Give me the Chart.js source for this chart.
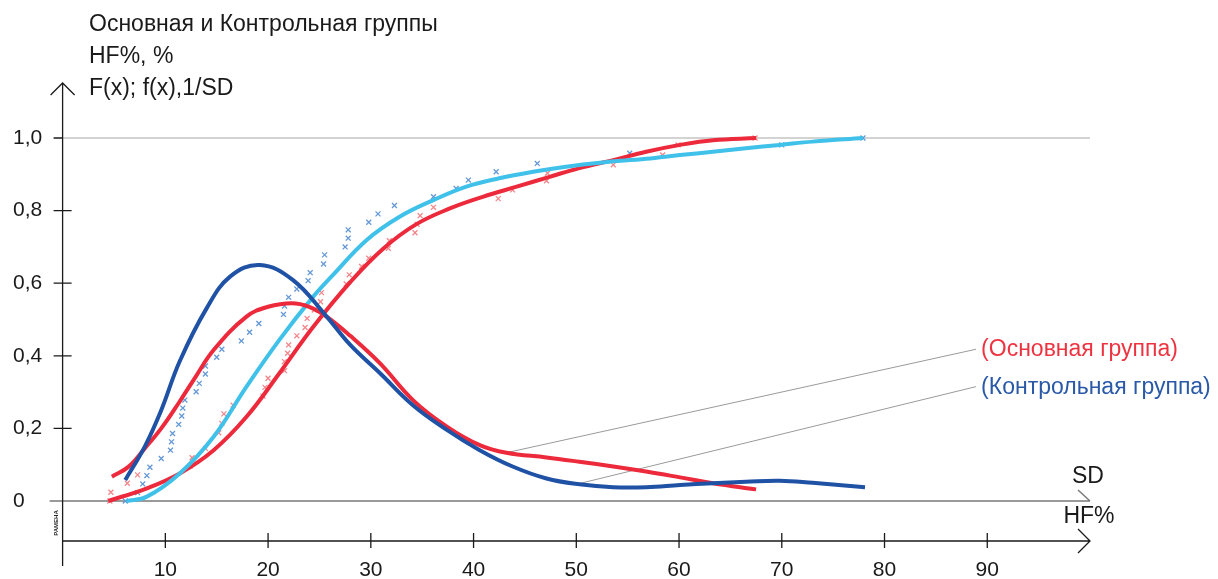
<!DOCTYPE html>
<html>
<head>
<meta charset="utf-8">
<script src="https://cdn.jsdelivr.net/npm/chart.js@4"></script>
<style>
  html, body { margin: 0; padding: 0; background: #fff; }
</style>
</head>
<body>
<canvas id="chart" width="1218" height="579"></canvas>
<script>
// tick labels
const xTicks = [10, 20, 30, 40, 50, 60, 70, 80, 90];
const yTicks = [0, 0.2, 0.4, 0.6, 0.8, 1.0];

// f(x) - Основная группа
const mainPdfX = [4.8, 6.4, 8.0, 9.6, 11.3, 12.9, 14.7, 17.9, 20.0, 22.3, 24.0, 25.7, 28.0, 30.9, 34.1, 37.4, 40.6, 43.2, 47.1, 50.3, 53.6, 56.8, 60.1, 63.3, 67.5];
const mainPdfY = [0.067, 0.094, 0.145, 0.2, 0.27, 0.34, 0.416, 0.508, 0.535, 0.545, 0.535, 0.508, 0.455, 0.379, 0.278, 0.205, 0.154, 0.133, 0.120, 0.108, 0.095, 0.081, 0.065, 0.049, 0.032];

// f(x) - Контрольная группа
const ctrlPdfX = [6.1, 8.0, 9.6, 11.4, 14.0, 16.3, 19.2, 22.4, 25.7, 28.0, 30.9, 34.1, 37.4, 40.6, 43.8, 47.1, 50.3, 53.6, 56.8, 60.1, 63.3, 66.5, 69.8, 73.0, 78.1];
const ctrlPdfY = [0.058, 0.15, 0.25, 0.385, 0.53, 0.618, 0.65, 0.609, 0.508, 0.43, 0.352, 0.264, 0.196, 0.14, 0.095, 0.062, 0.046, 0.038, 0.038, 0.044, 0.049, 0.053, 0.056, 0.050, 0.038];

// F(x) - Основная группа
const mainCdfX = [4.45, 8.2, 11.4, 14.7, 17.9, 21.1, 24.4, 28.0, 31.2, 34.4, 37.7, 40.9, 44.2, 47.4, 50.3, 53.6, 56.8, 60.1, 63.3, 67.5];
const mainCdfY = [0, 0.035, 0.076, 0.14, 0.232, 0.352, 0.48, 0.603, 0.695, 0.762, 0.806, 0.838, 0.866, 0.893, 0.917, 0.939, 0.962, 0.981, 0.994, 1.0];

// F(x) - Контрольная группа
const ctrlCdfX = [6.2, 8.2, 11.4, 14.7, 17.9, 21.1, 24.4, 26.3, 29.6, 32.8, 36.1, 39.3, 42.5, 45.8, 49.0, 52.3, 56.8, 60.1, 63.3, 66.5, 69.8, 73.0, 77.9];
const ctrlCdfY = [0, 0.012, 0.076, 0.177, 0.315, 0.444, 0.563, 0.622, 0.719, 0.783, 0.829, 0.866, 0.889, 0.907, 0.921, 0.932, 0.943, 0.953, 0.962, 0.972, 0.981, 0.99, 1.0];

// эмпирические точки
const mainEmpX = [4.6, 4.7, 6.3, 7.3, 12.4, 12.6, 13.9, 15.2, 15.5, 15.7, 16.6, 19.5, 19.7, 20.0, 21.6, 21.6, 21.9, 22.0, 22.8, 23.6, 23.8, 24.5, 25.1, 25.2, 27.6, 27.9, 29.1, 29.8, 31.7, 31.8, 34.3, 34.5, 34.8, 36.1, 42.4, 43.8, 47.1, 47.2, 53.6, 58.4, 59.9, 67.4];
const mainEmpY = [0.0, 0.024, 0.049, 0.072, 0.096, 0.119, 0.145, 0.188, 0.214, 0.24, 0.264, 0.289, 0.313, 0.338, 0.359, 0.384, 0.407, 0.43, 0.455, 0.478, 0.503, 0.526, 0.549, 0.574, 0.598, 0.623, 0.646, 0.669, 0.696, 0.717, 0.739, 0.762, 0.786, 0.809, 0.833, 0.857, 0.882, 0.903, 0.926, 0.953, 0.981, 1.0];
const ctrlEmpX = [6.1, 7.3, 7.8, 8.2, 8.5, 9.6, 10.5, 10.6, 10.7, 11.3, 11.6, 11.7, 11.9, 13.0, 13.3, 13.9, 13.9, 15.0, 15.5, 17.4, 18.2, 19.1, 21.5, 21.6, 22.0, 22.8, 23.9, 24.1, 25.4, 25.5, 27.5, 27.8, 27.8, 29.8, 30.7, 32.3, 36.1, 38.3, 39.5, 42.2, 46.2, 55.2, 70.0, 77.9];
const ctrlEmpY = [0.0, 0.023, 0.047, 0.07, 0.093, 0.117, 0.14, 0.163, 0.186, 0.211, 0.234, 0.256, 0.278, 0.301, 0.324, 0.35, 0.372, 0.396, 0.418, 0.441, 0.465, 0.489, 0.514, 0.537, 0.561, 0.584, 0.607, 0.629, 0.653, 0.678, 0.70, 0.724, 0.747, 0.768, 0.791, 0.814, 0.838, 0.861, 0.884, 0.907, 0.930, 0.958, 0.981, 1.0];

// выноски к подписям
const mainLinkX = [43.2, 88.9];
const mainLinkY = [0.133, 0.418];
const ctrlLinkX = [50.0, 88.9];
const ctrlLinkY = [0.046, 0.315];

const pts = (xs, ys) => xs.map((x, i) => ({ x: x, y: ys[i] }));

const RED = '#ec2a3c';
const CYAN = '#3fc1ea';
const BLUE = '#1f52a5';
const FONT = '"Liberation Sans", Arial, sans-serif';

Chart.defaults.font.family = FONT;

function curve(data, color, order) {
  return {
    type: 'line', data: data, borderColor: color, borderWidth: 4,
    pointRadius: 0, fill: false, tension: 0.4, order: order
  };
}
function marks(data, color) {
  return {
    type: 'scatter', data: data, pointStyle: 'crossRot', pointRadius: 3.5,
    borderColor: color, borderWidth: 1.3, backgroundColor: color, order: 10
  };
}
function link(data) {
  return {
    type: 'line', data: data, borderColor: '#9a9a9a', borderWidth: 1,
    pointRadius: 0, fill: false, tension: 0, order: 8
  };
}

const axesPlugin = {
  id: 'axesPlugin',
  beforeDatasetsDraw(chart) {
    const c = chart.ctx, xs = chart.scales.x, ys = chart.scales.y;
    const x0 = xs.getPixelForValue(0), xEnd = xs.getPixelForValue(100);
    c.save();
    // линия сетки 1,0
    c.strokeStyle = '#c4c4c4'; c.lineWidth = 1.5;
    c.beginPath(); c.moveTo(x0, ys.getPixelForValue(1)); c.lineTo(xEnd, ys.getPixelForValue(1)); c.stroke();
    // ось SD
    const y0 = ys.getPixelForValue(0);
    c.strokeStyle = '#7a7a7a'; c.lineWidth = 1.5;
    c.beginPath(); c.moveTo(x0 - 13, y0); c.lineTo(xEnd, y0);
    c.moveTo(xEnd - 12, y0 - 11); c.lineTo(xEnd, y0); c.stroke();
    c.restore();
  },
  afterDraw(chart) {
    const c = chart.ctx, xs = chart.scales.x, ys = chart.scales.y, a = chart.chartArea;
    const x0 = xs.getPixelForValue(0), xEnd = xs.getPixelForValue(100);
    c.save();
    c.strokeStyle = '#1a1a1a'; c.lineWidth = 1.3;
    c.beginPath();
    // вертикальная ось со стрелкой
    c.moveTo(x0, a.top); c.lineTo(x0, a.bottom + 25);
    c.moveTo(x0 - 12, a.top + 12); c.lineTo(x0, a.top); c.lineTo(x0 + 12, a.top + 12);
    yTicks.forEach(v => {
      if (v === 0) return;
      const y = ys.getPixelForValue(v);
      c.moveTo(x0 - 9, y); c.lineTo(v === 1 ? x0 : x0 + 9, y);
    });
    // ось HF%
    c.moveTo(x0, a.bottom); c.lineTo(xEnd, a.bottom);
    c.moveTo(xEnd - 12, a.bottom - 12); c.lineTo(xEnd, a.bottom); c.lineTo(xEnd - 12, a.bottom + 12);
    xTicks.forEach(v => {
      const x = xs.getPixelForValue(v);
      c.moveTo(x, a.bottom - 8); c.lineTo(x, a.bottom + 7);
    });
    c.stroke();

    c.fillStyle = '#1a1a1a';
    c.textBaseline = 'middle';
    c.font = '23px ' + FONT;
    c.textAlign = 'left';
    c.fillText('Основная и Контрольная группы', 89, 25);
    c.fillText('HF%, %', 89, 57);
    c.fillText('F(x); f(x),1/SD', 89, 89);
    c.textAlign = 'center';
    c.fillText('SD', xEnd - 2, ys.getPixelForValue(0) - 24);
    c.fillText('HF%', xEnd - 1, a.bottom - 24);

    c.textAlign = 'left';
    c.fillStyle = '#ee3340';
    c.fillText('(Основная группа)', xs.getPixelForValue(89.4), ys.getPixelForValue(0.416));
    c.fillStyle = '#2a59a8';
    c.fillText('(Контрольная группа)', xs.getPixelForValue(89.4), ys.getPixelForValue(0.311));

    // маленькая повернутая подпись
    c.save();
    c.translate(x0 - 6, a.bottom - 18);
    c.rotate(-Math.PI / 2);
    c.fillStyle = '#222';
    c.font = 'bold 6px ' + FONT;
    c.textAlign = 'center';
    c.fillText('РАМЕНА', 0, 0);
    c.restore();
    c.restore();
  }
};

new Chart(document.getElementById('chart'), {
  data: {
    datasets: [
      marks(pts(mainEmpX, mainEmpY), '#f3868b'),
      marks(pts(ctrlEmpX, ctrlEmpY), '#6498d6'),
      link(pts(mainLinkX, mainLinkY)),
      link(pts(ctrlLinkX, ctrlLinkY)),
      curve(pts(mainCdfX, mainCdfY), RED, 4),
      curve(pts(ctrlCdfX, ctrlCdfY), CYAN, 3),
      curve(pts(mainPdfX, mainPdfY), RED, 2),
      curve(pts(ctrlPdfX, ctrlPdfY), BLUE, 1)
    ]
  },
  options: {
    responsive: false,
    animation: false,
    layout: { padding: { left: 13, right: 128, top: 83, bottom: 0 } },
    plugins: { legend: { display: false }, tooltip: { enabled: false } },
    scales: {
      x: {
        type: 'linear', min: 0, max: 100,
        grid: { display: false, drawTicks: false }, border: { display: false },
        afterBuildTicks: s => { s.ticks = xTicks.map(v => ({ value: v })); },
        afterFit: s => { s.height = 38; },
        ticks: { color: '#1a1a1a', font: { size: 21 }, padding: 17, maxRotation: 0 }
      },
      y: {
        type: 'linear', min: -0.1102, max: 1.1515,
        grid: { display: false, drawTicks: false }, border: { display: false },
        afterBuildTicks: s => { s.ticks = yTicks.map(v => ({ value: v })); },
        afterFit: s => { s.width = 49.6; },
        ticks: {
          color: '#1a1a1a', font: { size: 21 }, crossAlign: 'far', padding: 0,
          callback: v => v === 0 ? '0' : v.toFixed(1).replace('.', ',')
        }
      }
    }
  },
  plugins: [axesPlugin]
});
</script>
</body>
</html>
